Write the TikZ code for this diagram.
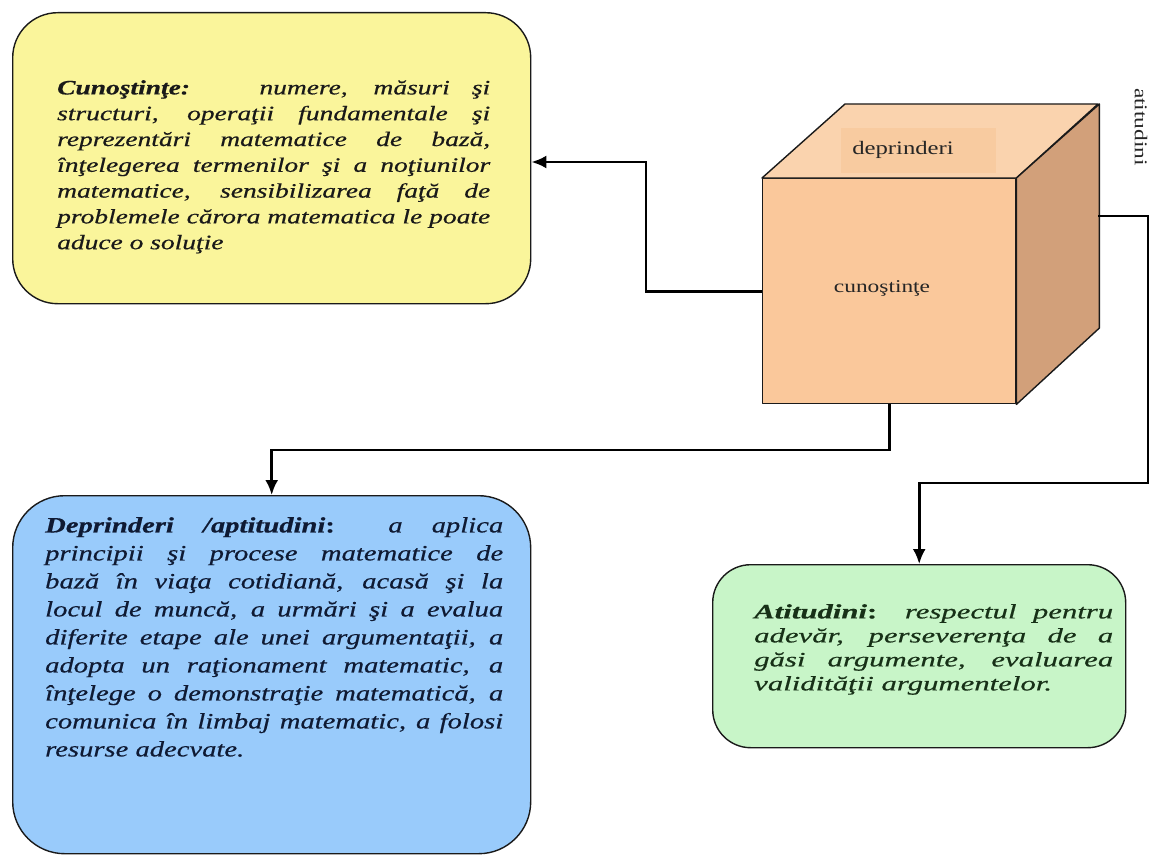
\documentclass[tikz,border=0pt]{standalone}
\usepackage{fontspec}
\setmainfont{Liberation Serif}
\newfontfamily\yfont[FakeStretch=1.34,FakeBold=0.5]{Liberation Serif}
\newfontfamily\bfont[FakeStretch=1.3,FakeBold=0.5]{Liberation Serif}
\newfontfamily\gfont[FakeStretch=1.5,FakeBold=0.5]{Liberation Serif}
\newfontfamily\cfont[FakeStretch=1.3]{Liberation Serif}
\usetikzlibrary{arrows.meta}
\definecolor{yfill}{HTML}{FAF59B}
\definecolor{bfill}{HTML}{99CBFB}
\definecolor{gfill}{HTML}{C8F5C8}
\definecolor{cfront}{HTML}{FAC89B}
\definecolor{ctop}{HTML}{FAD3AE}
\definecolor{cside}{HTML}{D2A07A}
\definecolor{clabel}{HTML}{F8CBA0}
\definecolor{edge}{HTML}{1A1A1A}
\definecolor{btext}{HTML}{0F1A33}
\definecolor{gtext}{HTML}{173017}
\newcommand{\jl}[2]{\makebox[#1][s]{#2}}
\tikzset{
  card/.style={draw=edge, line width=1.4pt, anchor=north west, inner sep=0pt},
  blocktext/.style={anchor=north west, inner sep=0pt, align=left},
  conn/.style={draw=black, line width=2.6pt, -{Latex[length=15pt,width=13pt]}},
  face/.style={draw=edge, line width=1.4pt, line join=round},
  cubelabel/.style={font=\cfont\fontsize{18}{20}\selectfont, text=black!85, inner sep=0pt}
}
\begin{document}
\begin{tikzpicture}[x=1pt,y=-1pt]
\useasboundingbox[fill=white] (0,0) rectangle (1150,856);

% boxes
\node[card, fill=yfill, rounded corners=45pt, minimum width=518pt, minimum height=291pt] (yellow) at (12,12) {};
\node[card, fill=bfill, rounded corners=52pt, minimum width=518pt, minimum height=358pt] (blue) at (12,495) {};
\node[card, fill=gfill, rounded corners=38pt, minimum width=413pt, minimum height=183pt] (green) at (712,564) {};

% cube
\node[face, fill=cfront, anchor=north west, minimum width=253pt, minimum height=225pt, inner sep=0pt] (front) at (762,178) {};
\filldraw[face, fill=ctop] (front.north west) -- ++(83,-74) -- ++(253,0) -- (front.north east) -- cycle;
\filldraw[face, fill=cside] (front.north east) -- ++(83,-74) -- ++(0,224) -- (front.south east) -- cycle;
\node[fill=clabel, minimum width=155pt, minimum height=45pt, inner sep=0pt] (deprect) at (918,150) {};
\node[cubelabel, font=\cfont\fontsize{19}{20}\selectfont] (dep) at (903,150) {deprinderi};
\node[cubelabel] (cun) at (882,288) {cunoştinţe};
\node[cubelabel, rotate=-90] (atit) at (1141,127) {atitudini};

% texts
\node[blocktext, font=\yfont\itshape\fontsize{20.5}{25.8}\selectfont, text=black!90] (ytext) at (57,80) {%
\jl{433pt}{\textbf{Cunoştinţe:}\hspace{30pt} numere, măsuri şi}\\
\jl{433pt}{structuri, operaţii fundamentale şi}\\
\jl{433pt}{reprezentări matematice de bază,}\\
\jl{433pt}{înţelegerea termenilor şi a noţiunilor}\\
\jl{433pt}{matematice, sensibilizarea faţă de}\\
\jl{433pt}{problemele cărora matematica le poate}\\
aduce o soluţie};

\node[blocktext, font=\bfont\itshape\fontsize{22}{28}\selectfont, text=btext] (btext) at (45,517) {%
\jl{458pt}{\textbf{Deprinderi /aptitudini\upshape:} a aplica}\\
\jl{458pt}{principii şi procese matematice de}\\
\jl{458pt}{bază în viaţa cotidiană, acasă şi la}\\
\jl{458pt}{locul de muncă, a urmări şi a evalua}\\
\jl{458pt}{diferite etape ale unei argumentaţii, a}\\
\jl{458pt}{adopta un raţionament matematic, a}\\
\jl{458pt}{înţelege o demonstraţie matematică, a}\\
\jl{458pt}{comunica în limbaj matematic, a folosi}\\
resurse adecvate.};

\node[blocktext, font=\gfont\itshape\fontsize{20.5}{24}\selectfont, text=gtext] (gtext) at (754,604) {%
\jl{359pt}{\textbf{Atitudini\upshape:} respectul pentru}\\
\jl{359pt}{adevăr, perseverenţa de a}\\
\jl{359pt}{găsi argumente, evaluarea}\\
validităţii argumentelor.};

% connectors
\coordinate (k1) at (646,162);
\draw[conn] (front.west) -| (k1) -- (k1 -| yellow.east);
\coordinate (k2) at (0,450);
\draw[conn] (front.south) -- (front.south |- k2) -| (blue.north);
\coordinate (rf) at (1098,216);
\coordinate (k3) at (1148,483);
\draw[conn] (rf) -| (k3) -| (green.north);
\end{tikzpicture}
\end{document}
